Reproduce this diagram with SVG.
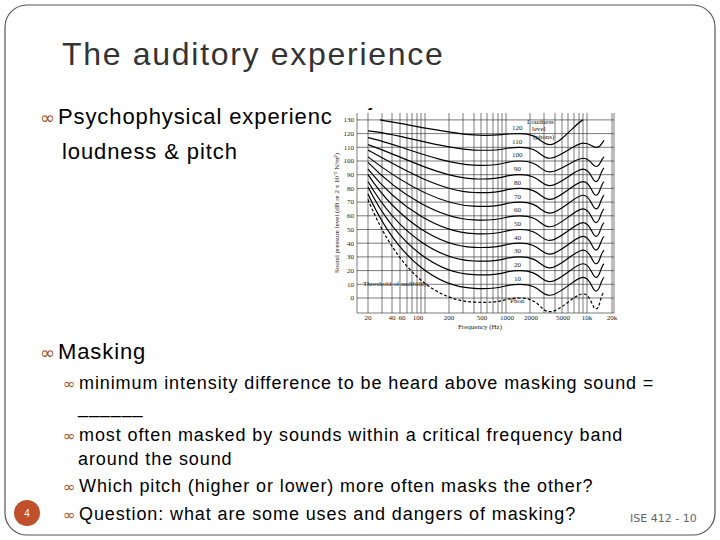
<svg xmlns="http://www.w3.org/2000/svg" width="720" height="540" viewBox="0 0 720 540">
<style>
.t{font-family:"Liberation Sans",Arial,sans-serif;fill:#000;letter-spacing:0.9px}
.b{font-family:"DejaVu Sans",sans-serif;fill:#a0522d}
.g{stroke:#222;stroke-width:0.6}
.c{fill:none;stroke:#000;stroke-width:1.2}
.s text{font-family:"Liberation Serif",serif;font-size:7px;fill:#222}
</style>
<rect width="720" height="540" fill="#fff"/>
<rect x="5" y="5" width="710" height="530" rx="22" fill="none" stroke="#555" stroke-width="1.2"/>
<text class="t" x="62" y="65" font-size="32" style="fill:#333;letter-spacing:1.7px">The auditory experience</text>
<g id="bullets1">
<text x="40" y="124" class="b" font-size="18">∞</text>
<text class="t" x="58" y="124" font-size="22">Psychophysical experience of</text>
<text class="t" x="62" y="159" font-size="22">loudness &amp; pitch</text>
</g>
<g id="chart">
<rect x="333" y="110" width="286" height="222" fill="#fff"/>
<g class="g">
<line x1="357" y1="113" x2="357" y2="313"/><line x1="614" y1="113" x2="614" y2="313"/>
<line x1="357" y1="313" x2="614" y2="313"/>
<path d="M357 298H614M357 284.3H614M357 270.6H614M357 256.9H614M357 243.2H614M357 229.5H614M357 215.8H614M357 202.1H614M357 188.4H614M357 174.7H614M357 161H614M357 147.3H614M357 133.6H614M357 119.9H614"/>
<path d="M368 113V313M382 113V313M392 113V313M400 113V313M407 113V313M412 113V313M417 113V313M421 113V313M425 113V313M449 113V313M463 113V313M474 113V313M481 113V313M487 113V313M493 113V313M498 113V313M502 113V313M506 113V313M530 113V313M544 113V313M555 113V313M562 113V313M568 113V313M574 113V313M579 113V313M583 113V313M587 113V313M612 113V313"/>
</g>
<g transform="translate(0,298) scale(1,-1.37)">
<path class="c" vector-effect="non-scaling-stroke" stroke-dasharray="3,2" d="M368 72C400 15 440 -2 474 -3S500 0 520 0S540 -10 550 -10S575 3 583 3S592 -8 596 -8S600 2 604 4"/>
<path class="c" vector-effect="non-scaling-stroke" d="M368 76C400 25 440 8 474 7S500 10 520 10S540 2 550 2S575 15 583 15S592 5 596 5S600 12 604 15"/>
<path class="c" vector-effect="non-scaling-stroke" d="M368 81C400 35 440 18 474 17S500 20 520 20S540 12 550 12S575 25 583 25S592 15 596 15S600 22 604 25"/>
<path class="c" vector-effect="non-scaling-stroke" d="M368 85C400 45 440 28 474 27S500 30 520 30S540 22 550 22S575 35 583 35S592 25 596 25S600 32 604 35"/>
<path class="c" vector-effect="non-scaling-stroke" d="M368 90C400 55 440 38 474 37S500 40 520 40S540 32 550 32S575 45 583 45S592 35 596 35S600 42 604 45"/>
<path class="c" vector-effect="non-scaling-stroke" d="M368 94C400 65 440 48 474 47S500 50 520 50S540 42 550 42S575 55 583 55S592 45 596 45S600 52 604 55"/>
<path class="c" vector-effect="non-scaling-stroke" d="M368 99C400 75 440 58 474 57S500 60 520 60S540 52 550 52S575 65 583 65S592 55 596 55S600 62 604 65"/>
<path class="c" vector-effect="non-scaling-stroke" d="M368 103C400 85 440 68 474 67S500 70 520 70S540 62 550 62S575 75 583 75S592 65 596 65S600 72 604 75"/>
<path class="c" vector-effect="non-scaling-stroke" d="M368 108C400 95 440 78 474 77S500 80 520 80S540 72 550 72S575 85 583 85S592 75 596 75S600 82 604 85"/>
<path class="c" vector-effect="non-scaling-stroke" d="M368 112C400 104 440 88 474 87S500 90 520 90S540 82 550 82S575 94 583 94S592 85 596 85S600 92 604 95"/>
<path class="c" vector-effect="non-scaling-stroke" d="M368 117C400 112 440 98 474 97S500 100 520 100S540 92 550 92S575 102 583 102S592 96 596 96S600 100 604 103"/>
<path class="c" vector-effect="non-scaling-stroke" d="M368 122C400 120 440 109 474 108S500 110 520 110S540 102 550 102S575 113 583 113S592 110 596 110S600 111 604 115"/>
<path class="c" vector-effect="non-scaling-stroke" d="M380 130C420 125 450 120 474 119S500 120 520 120S540 112 550 112S575 127 583 130"/>
</g>
<g class="s">
<text x="354" y="300" text-anchor="end">0</text><text x="354" y="287" text-anchor="end">10</text><text x="354" y="273" text-anchor="end">20</text><text x="354" y="259" text-anchor="end">30</text><text x="354" y="246" text-anchor="end">40</text><text x="354" y="232" text-anchor="end">50</text><text x="354" y="218" text-anchor="end">60</text><text x="354" y="204" text-anchor="end">70</text><text x="354" y="191" text-anchor="end">80</text><text x="354" y="177" text-anchor="end">90</text><text x="354" y="163" text-anchor="end">100</text><text x="354" y="150" text-anchor="end">110</text><text x="354" y="136" text-anchor="end">120</text><text x="354" y="122" text-anchor="end">130</text>
<text x="368" y="320" text-anchor="middle">20</text><text x="392" y="320" text-anchor="middle">40</text><text x="402" y="320" text-anchor="middle">60</text><text x="418" y="320" text-anchor="middle">100</text><text x="449" y="320" text-anchor="middle">200</text><text x="482" y="320" text-anchor="middle">500</text><text x="507" y="320" text-anchor="middle">1000</text><text x="531" y="320" text-anchor="middle">2000</text><text x="563" y="320" text-anchor="middle">5000</text><text x="587" y="320" text-anchor="middle">10k</text><text x="612" y="320" text-anchor="middle">20k</text>
<text x="480" y="329" text-anchor="middle">Frequency (Hz)</text>
<text transform="translate(339,213) rotate(-90)" text-anchor="middle">Sound pressure level (dB re 2 x 10⁻⁵ N/m²)</text>
<text x="363" y="286">Threshold of audibility</text>
<text x="510" y="303">Phon</text>
<text x="527" y="124">Loudness</text><text x="532" y="131">level</text><text x="533" y="139">(phons)</text>
<text x="512" y="130">120</text><text x="512" y="144">110</text><text x="512" y="157">100</text><text x="514" y="171">90</text><text x="514" y="185">80</text><text x="514" y="199">70</text><text x="514" y="212">60</text><text x="514" y="226">50</text><text x="514" y="240">40</text><text x="514" y="253">30</text><text x="514" y="267">20</text><text x="514" y="281">10</text>
</g>
</g>
<g id="bullets2">
<text x="40" y="359" class="b" font-size="18">∞</text>
<text class="t" x="58" y="359" font-size="22">Masking</text>
<text x="63" y="389" class="b" font-size="15">∞</text>
<text class="t" x="79" y="389" font-size="18">minimum intensity difference to be heard above masking sound =</text>
<text class="t" x="78" y="413" font-size="18">______</text>
<text x="63" y="441" class="b" font-size="15">∞</text>
<text class="t" x="79" y="441" font-size="18">most often masked by sounds within a critical frequency band</text>
<text class="t" x="78" y="465" font-size="18">around the sound</text>
<text x="63" y="492" class="b" font-size="15">∞</text>
<text class="t" x="79" y="492" font-size="18">Which pitch (higher or lower) more often masks the other?</text>
<text x="63" y="520" class="b" font-size="15">∞</text>
<text class="t" x="79" y="520" font-size="18">Question: what are some uses and dangers of masking?</text>
</g>
<g id="footer">
<circle cx="27" cy="513" r="13" fill="#c0502c"/>
<text x="27" y="517" font-family="Liberation Sans,sans-serif" font-size="10" fill="#fff" text-anchor="middle">4</text>
<text x="630" y="522" font-family="DejaVu Sans,sans-serif" font-size="11" fill="#666">ISE 412 - 10</text>
</g>
</svg>
